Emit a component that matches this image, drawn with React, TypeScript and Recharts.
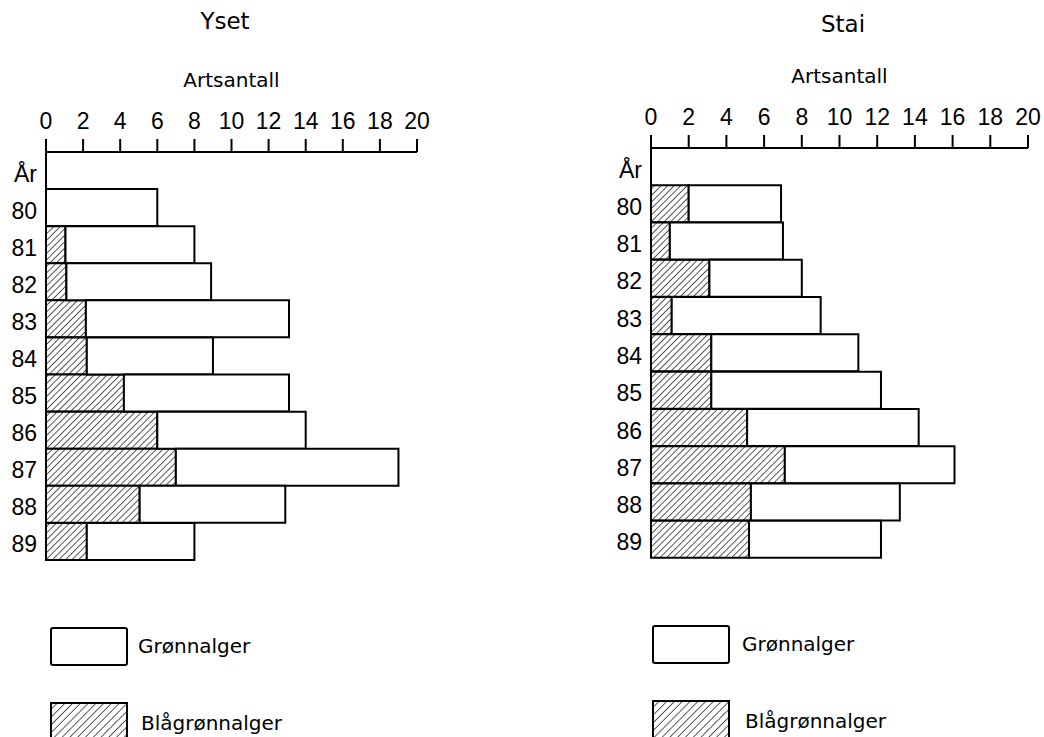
import { BarChart, Bar, XAxis, YAxis } from "recharts";

// years on the category axis ("År" is the header row, empty)
const years = ["År", "80", "81", "82", "83", "84", "85", "86", "87", "88", "89"];

// Yset: total species count (white bar) and blue-green part (hatched)
const ysetTotal = [null, 6, 8, 8.9, 13.1, 9, 13.1, 14, 19, 12.9, 8];
const ysetBlue = [null, 0, 1.05, 1.1, 2.15, 2.2, 4.2, 6, 7, 5.05, 2.2];

// Stai
const staiTotal = [null, 6.9, 7, 8, 9, 11, 12.2, 14.2, 16.1, 13.2, 12.2];
const staiBlue = [null, 2, 1, 3.1, 1.1, 3.2, 3.2, 5.1, 7.1, 5.3, 5.2];

const xTicks = [0, 2, 4, 6, 8, 10, 12, 14, 16, 18, 20];

const FONT = "DejaVu Sans";
const NUM_FONT = "Liberation Sans";

type Row = { year: string; blue: number | null; rest: number | null };

const buildRows = (total: (number | null)[], blue: (number | null)[]): Row[] =>
  years.map((year, i) => {
    const t = total[i];
    const b = blue[i];
    return {
      year,
      blue: b,
      rest: t == null ? null : +(t - (b ?? 0)).toFixed(2),
    };
  });

const ysetRows = buildRows(ysetTotal, ysetBlue);
const staiRows = buildRows(staiTotal, staiBlue);

// category labels sit a bit low in the original
const YTick = (props: any) => {
  const { x, y, payload } = props;
  return (
    <text x={x} y={y + 11} textAnchor="end" fontSize={23} fontFamily={NUM_FONT} fill="#000">
      {payload.value}
    </text>
  );
};

type PanelProps = {
  id: string;
  title: string;
  rows: Row[];
  left: number;
  width: number;
  axisY: number;
  plotLeft: number;
  plotRight: number;
  plotBottom: number;
  titleX: number;
  titleY: number;
};

function Panel({ id, title, rows, left, width, axisY, plotLeft, plotRight, plotBottom, titleX, titleY }: PanelProps) {
  const height = 580;
  const xAxisH = 30;
  const yAxisW = 40;
  return (
    <>
      <div
        style={{
          position: "absolute",
          left: titleX - 60,
          top: titleY - 23,
          width: 120,
          textAlign: "center",
          fontSize: 23,
          fontFamily: FONT,
          lineHeight: "27px",
        }}
      >
        {title}
      </div>
      <div style={{ position: "absolute", left, top: 0 }}>
        <BarChart
          width={width}
          height={height}
          data={rows}
          layout="vertical"
          barCategoryGap={0}
          margin={{
            top: axisY - xAxisH,
            left: plotLeft - left - yAxisW,
            right: left + width - plotRight,
            bottom: height - plotBottom,
          }}
        >
          <defs>
            <pattern id={id} patternUnits="userSpaceOnUse" width={4.6} height={4.6} patternTransform="rotate(45)">
              <rect width={4.6} height={4.6} fill="#fff" />
              <line x1={0} y1={0} x2={0} y2={4.6} stroke="#000" strokeWidth={1.3} />
            </pattern>
          </defs>
          <XAxis
            type="number"
            orientation="top"
            domain={[0, 20]}
            ticks={xTicks}
            interval={0}
            height={xAxisH}
            tickSize={13}
            tickMargin={10}
            axisLine={{ stroke: "#000", strokeWidth: 2 }}
            tickLine={{ stroke: "#000", strokeWidth: 2 }}
            tick={{ fill: "#000", fontSize: 23, fontFamily: NUM_FONT }}
            label={{
              value: "Artsantall",
              position: "top",
              offset: 35,
              fill: "#000",
              fontSize: 20,
              fontFamily: FONT,
            }}
          />
          <YAxis
            type="category"
            dataKey="year"
            width={yAxisW}
            tickSize={0}
            tickMargin={9}
            tickLine={false}
            axisLine={{ stroke: "#000", strokeWidth: 2 }}
            tick={<YTick />}
            interval={0}
          />
          <Bar dataKey="blue" stackId="a" fill={`url(#${id})`} stroke="#000" strokeWidth={2} isAnimationActive={false} />
          <Bar dataKey="rest" stackId="a" fill="#fff" stroke="#000" strokeWidth={2} isAnimationActive={false} />
        </BarChart>
      </div>
    </>
  );
}

function LegendBlock({ id, x, y, textX }: { id: string; x: number; y: number; textX: number }) {
  const text: React.CSSProperties = {
    position: "absolute",
    left: textX,
    fontSize: 20,
    fontFamily: FONT,
    lineHeight: "24px",
    whiteSpace: "nowrap",
  };
  return (
    <>
      <svg style={{ position: "absolute", left: x, top: y }} width={80} height={40}>
        <rect x={1} y={1} width={76} height={37} fill="#fff" stroke="#000" strokeWidth={2} rx={2} />
      </svg>
      <div style={{ ...text, top: y + 7 }}>Grønnalger</div>
      <svg style={{ position: "absolute", left: x, top: y + 75 }} width={80} height={40}>
        <defs>
          <pattern id={id} patternUnits="userSpaceOnUse" width={5.5} height={5.5} patternTransform="rotate(45)">
            <line x1={0} y1={0} x2={0} y2={5.5} stroke="#000" strokeWidth={1.3} />
          </pattern>
        </defs>
        <rect x={1} y={1} width={76} height={37} fill={`url(#${id})`} stroke="#000" strokeWidth={2} />
      </svg>
      <div style={{ ...text, left: textX + 3, top: y + 84 }}>Blågrønnalger</div>
    </>
  );
}

export default function App() {
  return (
    <div
      style={{
        position: "absolute",
        left: 0,
        top: 0,
        width: 1044,
        height: 737,
        overflow: "hidden",
        background: "#fff",
        fontFamily: FONT,
        color: "#000",
      }}
    >
      <Panel
        id="hatchY"
        title="Yset"
        rows={ysetRows}
        left={0}
        width={480}
        axisY={152}
        plotLeft={46}
        plotRight={417}
        plotBottom={560}
        titleX={225}
        titleY={31}
      />
      <Panel
        id="hatchS"
        title="Stai"
        rows={staiRows}
        left={560}
        width={484}
        axisY={148}
        plotLeft={651}
        plotRight={1028}
        plotBottom={558}
        titleX={843}
        titleY={34}
      />
      <LegendBlock id="legY" x={50} y={627} textX={138} />
      <LegendBlock id="legS" x={652} y={625} textX={742} />
    </div>
  );
}
